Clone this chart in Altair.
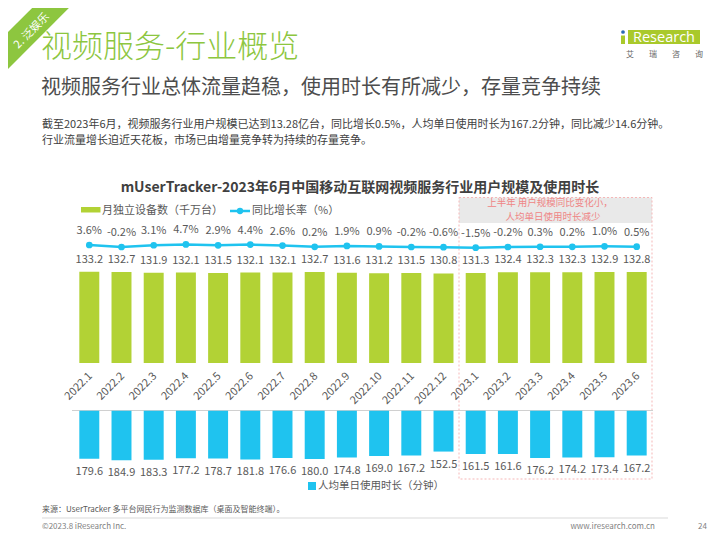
import altair as alt
import pandas as pd

# ---------------- data ----------------
months = ["2022.1", "2022.2", "2022.3", "2022.4", "2022.5", "2022.6", "2022.7", "2022.8",
          "2022.9", "2022.10", "2022.11", "2022.12", "2023.1", "2023.2", "2023.3", "2023.4",
          "2023.5", "2023.6"]
devices = [133.2, 132.7, 131.9, 132.1, 131.5, 132.1, 132.1, 132.7, 131.6, 131.2, 131.5, 130.8,
           131.3, 132.4, 132.3, 132.3, 132.9, 132.8]
growth = [3.6, -0.2, 3.1, 4.7, 2.9, 4.4, 2.6, 0.2, 1.9, 0.9, -0.2, -0.6,
          -1.5, -0.2, 0.3, 0.2, 1.0, 0.5]
minutes = [179.6, 184.9, 183.3, 177.2, 178.7, 181.8, 176.6, 180.0, 174.8, 169.0, 167.2, 152.5,
           161.5, 161.6, 176.2, 174.2, 173.4, 167.2]
logo_chars = ["艾", "瑞", "咨", "询"]

df = pd.DataFrame({"month": months, "devices": devices, "growth": growth, "minutes": minutes})
df["growth_label"] = [f"{g:.1f}%" for g in growth]
df["dev_label"] = [f"{v:.1f}" for v in devices]
df["min_label"] = [f"{v:.1f}" for v in minutes]

FONT = "Noto Sans CJK SC"
GREEN = "#b2d235"
BLUE = "#1fc3ef"
TITLE_GREEN = "#8dc63f"
LABEL = "#595959"
LBL_SIZE = 11


def P(v):
    # page pixel -> view pixel (page has 8px margin)
    return v - 8


xscale = alt.Scale(domain=months, range=[P(73.2), P(652.8)], paddingInner=0.38, paddingOuter=0.19)
X = alt.X("month:N", sort=months, scale=xscale, axis=None)

dev_scale = alt.Scale(domain=[0, 140], range=[P(363), P(363 - 140 * 0.685)])
min_scale = alt.Scale(domain=[0, 200], range=[P(410.7), P(410.7 + 200 * 0.268)])
gr_scale = alt.Scale(domain=[-10, 10], range=[P(246.9 + 5.3), P(246.9 - 5.3)])

base = alt.Chart(df)
one = pd.DataFrame({"a": [0]})


def txt(t, x, y, size=12, color=LABEL, align="left", weight="normal", angle=0, font=FONT):
    return alt.Chart(pd.DataFrame({"t": [t]})).mark_text(
        fontSize=size, color=color, align=align, baseline="middle", fontWeight=weight,
        angle=angle, font=font
    ).encode(x=alt.value(P(x)), y=alt.value(P(y)), text="t:N")


def rect(x1, x2, y1, y2, **kw):
    return alt.Chart(one).mark_rect(**kw).encode(
        x=alt.value(P(x1)), x2=alt.value(P(x2)), y=alt.value(P(y1)), y2=alt.value(P(y2)))


layers = []

# corner stripe
layers.append(alt.Chart(one).mark_rule(color=TITLE_GREEN, strokeWidth=26, strokeCap="butt").encode(
    x=alt.value(-15), y=alt.value(57.5), x2=alt.value(57.5), y2=alt.value(-15)))
layers.append(txt("2. 泛娱乐", 32, 31, size=11, color="white", align="center", angle=315))

# headings
layers.append(txt("视频服务-行业概览", 41, 48, size=31, color=TITLE_GREEN, weight=300))
layers.append(txt("视频服务行业总体流量趋稳，使用时长有所减少，存量竞争持续", 41, 88, size=20, color="#4d4d4d"))
layers.append(txt("截至2023年6月，视频服务行业用户规模已达到13.28亿台，同比增长0.5%，人均单日使用时长为167.2分钟，同比减少14.6分钟。",
                  42, 125, size=11, color="#404040"))
layers.append(txt("行业流量增长迫近天花板，市场已由增量竞争转为持续的存量竞争。", 42, 141, size=11, color="#404040"))

# logo
layers.append(rect(628, 700, 30, 44, color="#a9c92b"))
layers.append(rect(621, 625, 35.5, 44, color="#a9c92b"))
layers.append(alt.Chart(one).mark_point(filled=True, color="#2a6ab3", size=14, opacity=1).encode(
    x=alt.value(P(623)), y=alt.value(P(32))))
layers.append(txt("Research", 664, 37.5, size=14.5, color="white", align="center", font="Open Sans"))
for ch, xx in zip(logo_chars, [630, 653, 676, 699]):
    layers.append(txt(ch, xx, 55, size=8, color="#666666", align="center"))

# chart title
layers.append(txt("mUserTracker-2023年6月中国移动互联网视频服务行业用户规模及使用时长", 360, 187.5, size=14,
                  color="#404040", align="center", weight="bold"))

# legend top
layers.append(rect(81, 100.5, 207, 212.5, color=GREEN))
layers.append(txt("月独立设备数（千万台）", 102, 211, size=11, color=LABEL))
layers.append(alt.Chart(one).mark_rule(color=BLUE, strokeWidth=2.5).encode(
    x=alt.value(P(230)), x2=alt.value(P(250)), y=alt.value(P(211))))
layers.append(alt.Chart(one).mark_point(filled=True, color=BLUE, size=40, opacity=1).encode(
    x=alt.value(P(240)), y=alt.value(P(211))))
layers.append(txt("同比增长率（%）", 252, 211, size=11, color=LABEL))

# annotation box
layers.append(rect(459, 652, 197.5, 223, color="#e9e9e9"))
layers.append(rect(459, 652, 197.5, 479, fill=None, fillOpacity=0, stroke="#f5b7b7", strokeWidth=1,
                   strokeDash=[2, 2]))
layers.append(txt("上半年 用户规模同比变化小，", 550, 203, size=9.5, color="#ef8585", align="center"))
layers.append(txt("人均单日使用时长减少", 553, 216.8, size=9.5, color="#ef8585", align="center"))

# axis line between
layers.append(alt.Chart(one).mark_rule(color="#d0d0d0", strokeWidth=1).encode(
    x=alt.value(P(72)), x2=alt.value(P(653)), y=alt.value(P(410.5))))

# data marks
layers.append(base.mark_bar(color=GREEN).encode(
    x=X, y=alt.Y("devices:Q", scale=dev_scale, axis=None)))
layers.append(base.mark_text(dy=-12, fontSize=LBL_SIZE, color=LABEL, font=FONT, baseline="middle").encode(
    x=X, y=alt.Y("devices:Q", scale=dev_scale, axis=None), text="dev_label:N"))

layers.append(base.mark_bar(color=BLUE).encode(
    x=X, y=alt.Y("minutes:Q", scale=min_scale, axis=None)))
layers.append(base.mark_text(dy=13, fontSize=LBL_SIZE, color=LABEL, font=FONT, baseline="middle").encode(
    x=X, y=alt.Y("minutes:Q", scale=min_scale, axis=None), text="min_label:N"))

layers.append(base.mark_line(color=BLUE, strokeWidth=2.5).encode(
    x=X, y=alt.Y("growth:Q", scale=gr_scale, axis=None)))
layers.append(base.mark_point(filled=True, color=BLUE, size=45, opacity=1).encode(
    x=X, y=alt.Y("growth:Q", scale=gr_scale, axis=None)))
layers.append(base.mark_text(dy=-14, fontSize=LBL_SIZE, color=LABEL, font=FONT, baseline="middle").encode(
    x=X, y=alt.Y("growth:Q", scale=gr_scale, axis=None), text="growth_label:N"))

# month labels
layers.append(base.mark_text(angle=315, align="right", baseline="middle", fontSize=LBL_SIZE, color=LABEL,
                             font=FONT, dx=2).encode(
    x=X, y=alt.value(P(376)), text="month:N"))

# bottom legend
layers.append(rect(308, 316, 482, 490, color=BLUE))
layers.append(txt("人均单日使用时长（分钟）", 318, 486, size=10.5, color=LABEL))

# footer
layers.append(txt("来源：UserTracker 多平台网民行为监测数据库（桌面及智能终端）。", 42, 510, size=8, color=LABEL))
layers.append(alt.Chart(one).mark_rule(color="#d9d9d9", strokeWidth=1).encode(
    x=alt.value(P(42)), x2=alt.value(P(668)), y=alt.value(P(518))))
layers.append(txt("©2023.8 iResearch Inc.", 42, 527, size=8, color="#7f7f7f"))
layers.append(txt("www.iresearch.com.cn", 655, 527, size=8, color="#7f7f7f", align="right"))
layers.append(txt("24", 707, 527, size=8, color="#7f7f7f", align="right"))

chart = alt.layer(*layers).resolve_scale(y="independent").properties(
    width=704, height=524,
    autosize=alt.AutoSizeParams(type="none"),
    padding=0,
).configure_view(stroke=None)

chart.save("out.html", embed_options={"renderer": "svg", "actions": False})
